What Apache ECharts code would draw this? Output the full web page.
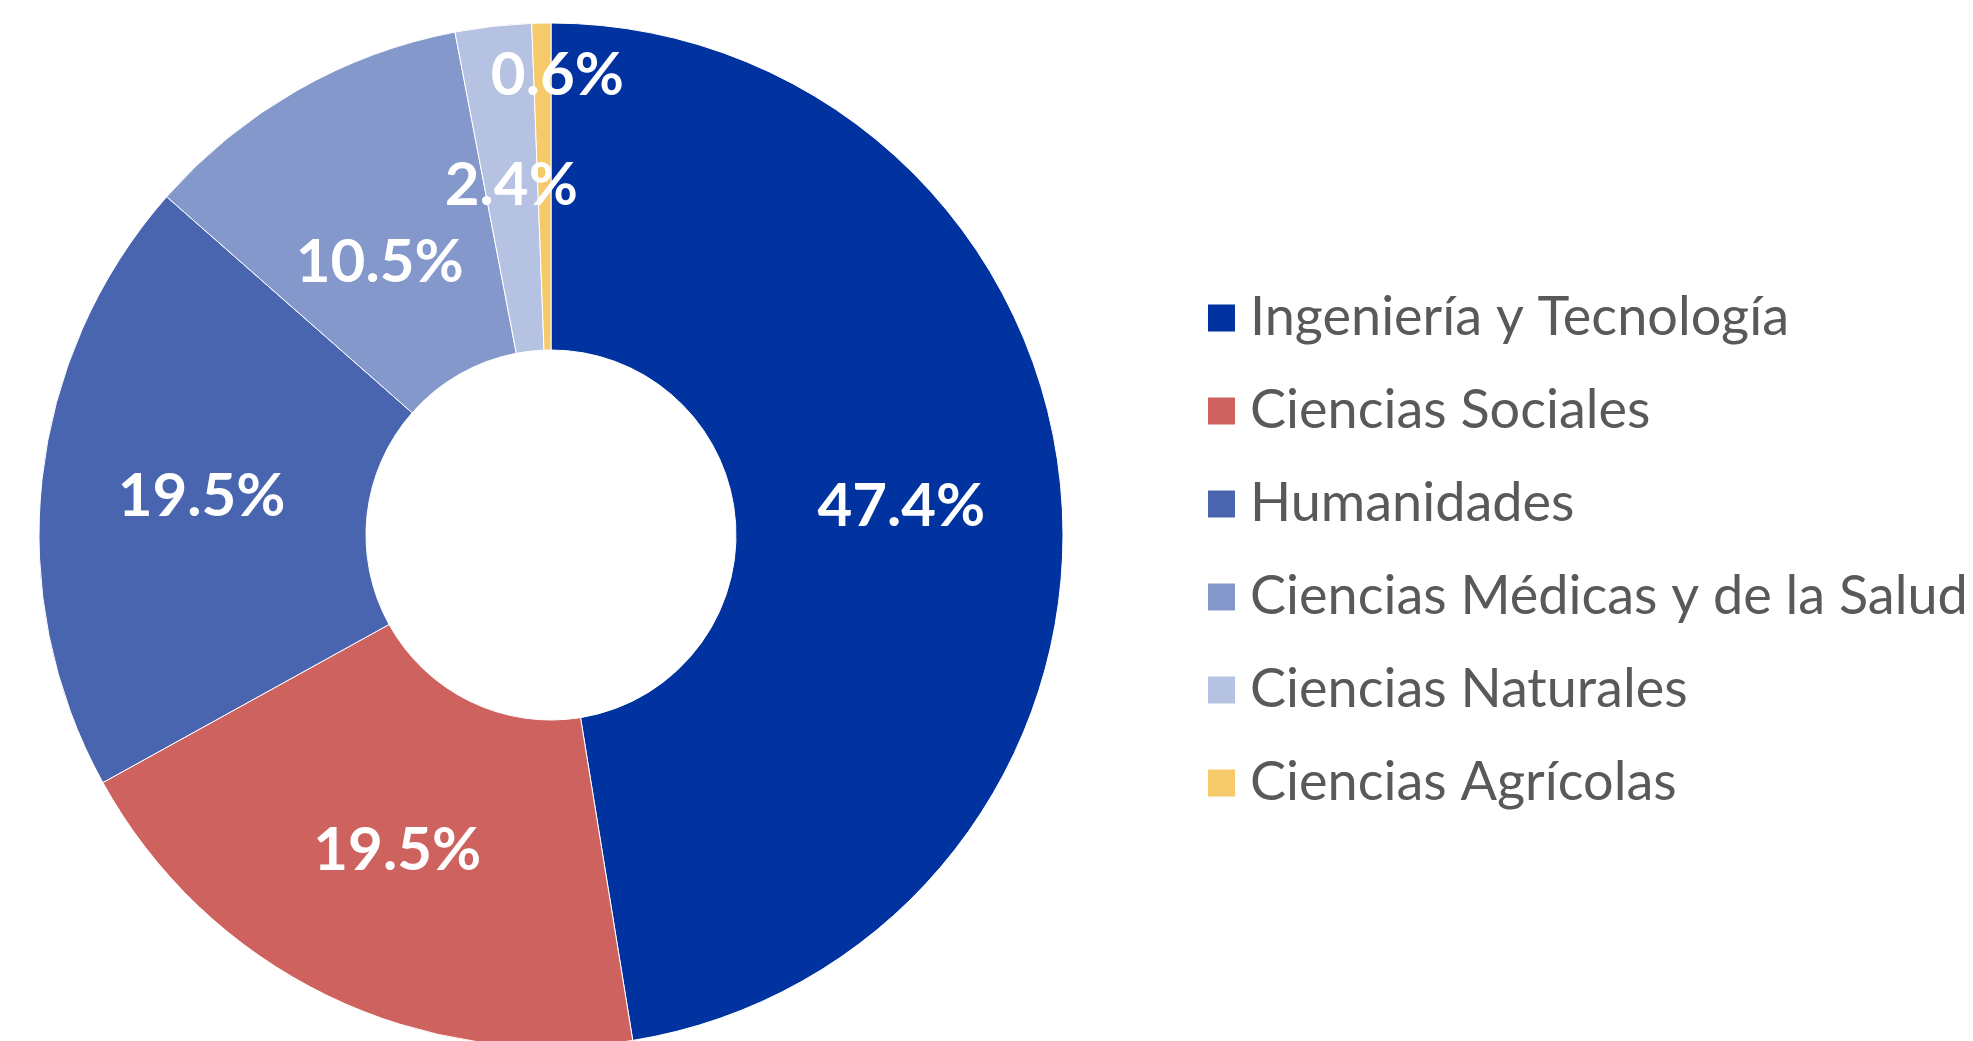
<!DOCTYPE html>
<html>
<head>
<meta charset="utf-8">
<script src="https://cdn.jsdelivr.net/npm/echarts@6/dist/echarts.min.js"></script>
<style>
  html, body { margin: 0; padding: 0; background: #fff; }
  #main { width: 1973px; height: 1041px; }
</style>
</head>
<body>
<div id="main"></div>
<script>
// categorías y porcentajes
var areas = ['Ingeniería y Tecnología', 'Ciencias Sociales', 'Humanidades',
  'Ciencias Médicas y de la Salud', 'Ciencias Naturales', 'Ciencias Agrícolas'];
var porcentajes = [47.4, 19.5, 19.5, 10.5, 2.4, 0.6];
var colores = ['#0033A0', '#CD625E', '#4A65B0', '#8598CB', '#B5C2E1', '#F6C96A'];

// desplazamiento de etiquetas que Excel movió
var ajusteEtiqueta = { 3: [3, 33], 5: [13, -108] };

var myChart = echarts.init(document.getElementById('main'));

var datos = areas.map(function (nombre, i) {
  return { name: nombre, value: porcentajes[i], itemStyle: { color: colores[i] } };
});

myChart.setOption({
  animation: false,
  legend: {
    orient: 'vertical',
    left: 1201,
    top: 283,
    itemWidth: 29,
    itemHeight: 29,
    itemGap: 33,
    icon: 'rect',
    data: areas,
    textStyle: {
      fontFamily: 'Lato',
      fontSize: 54,
      color: '#595959',
      lineHeight: 60,
      padding: [0, 0, 0, 9]
    }
  },
  series: [{
    type: 'pie',
    center: [551, 535],
    radius: [185, 512],
    startAngle: 90,
    clockwise: true,
    avoidLabelOverlap: false,
    itemStyle: { borderColor: '#fff', borderWidth: 1 },
    label: {
      show: true,
      position: 'inside',
      color: '#fff',
      fontFamily: 'Lato',
      fontWeight: 'bold',
      fontSize: 60,
      formatter: function (p) { return p.value.toFixed(1) + '%'; }
    },
    labelLine: { show: false },
    labelLayout: function (p) {
      var a = ajusteEtiqueta[p.dataIndex];
      return a ? { dx: a[0], dy: a[1] } : {};
    },
    data: datos
  }]
});
</script>
</body>
</html>
